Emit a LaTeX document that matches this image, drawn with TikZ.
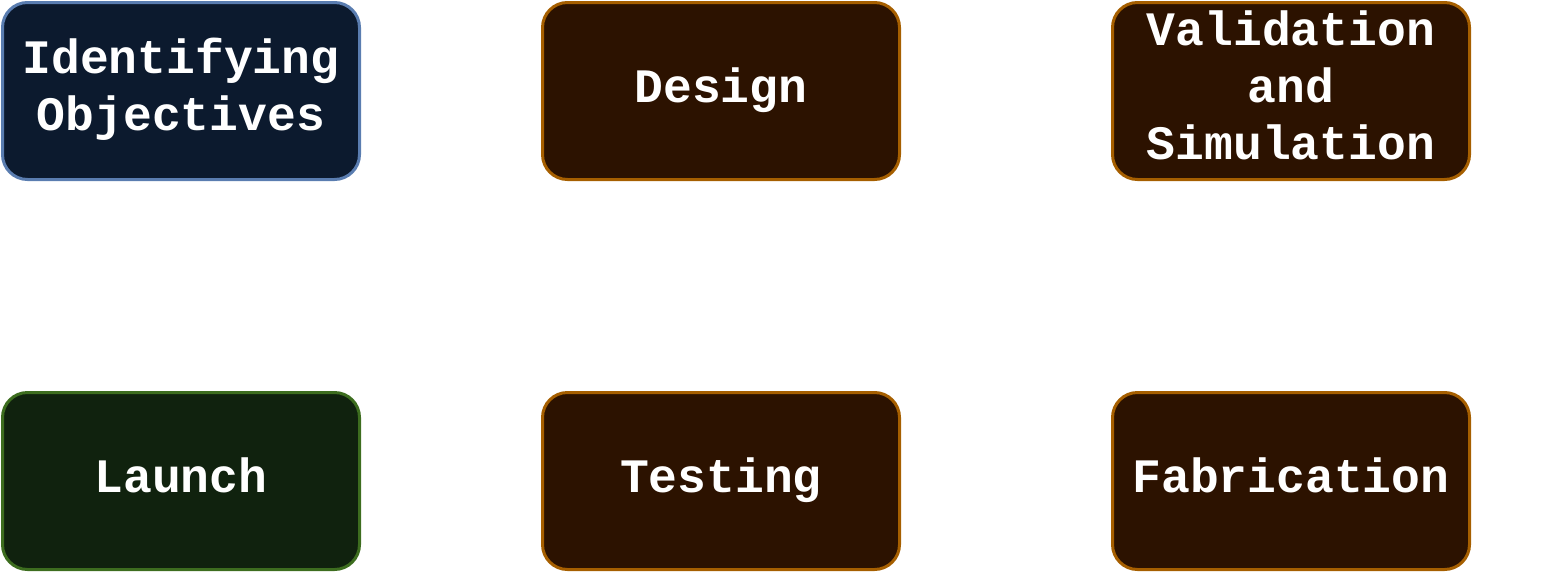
\documentclass[tikz,border=0pt]{standalone}
\usepackage{fontspec}
\newfontfamily\courfont{Liberation Mono}
\definecolor{bluefill}{HTML}{0C1A2E}
\definecolor{blueline}{HTML}{5A7DB0}
\definecolor{brownfill}{HTML}{2C1200}
\definecolor{brownline}{HTML}{A65F00}
\definecolor{greenfill}{HTML}{10220E}
\definecolor{greenline}{HTML}{3D6D1F}
\tikzset{
  stagebox/.style={rectangle, rounded corners=25pt, line width=3pt,
    minimum width=357pt, minimum height=177pt, inner sep=0pt,
    text width=350pt, align=center, text=white, text height=34pt,
    text depth=12pt,
    font=\courfont\bfseries\fontsize{48}{57}\selectfont},
  twolines/.style={text depth=69pt},
  threelines/.style={text depth=126pt},
  startbox/.style={stagebox, draw=blueline, fill=bluefill},
  midbox/.style={stagebox, draw=brownline, fill=brownfill},
  endbox/.style={stagebox, draw=greenline, fill=greenfill}
}
\begin{document}
\begin{tikzpicture}[x=1pt,y=-1pt]
\useasboundingbox (0,0) rectangle (1557,573);
\node[startbox, twolines] (obj) at (181,91) {Identifying\\Objectives};
\node[midbox] (design) at (721,91) {Design};
\node[midbox, threelines] (valid) at (1291,91) {Validation\\and\\Simulation};
\node[endbox] (launch) at (181,481) {Launch};
\node[midbox] (test) at (721,481) {Testing};
\node[midbox] (fab) at (1291,481) {Fabrication};
\end{tikzpicture}
\end{document}
